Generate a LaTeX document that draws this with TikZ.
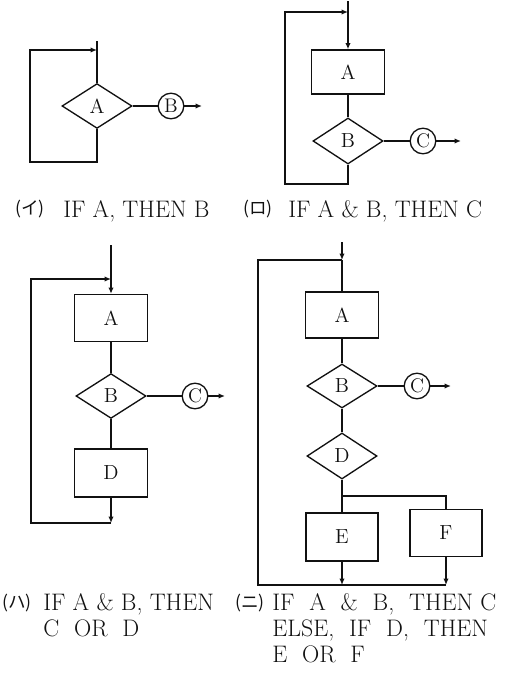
\documentclass[tikz,border=0pt]{standalone}
\usepackage{fontspec}
\usepackage{tikz}
\usetikzlibrary{arrows.meta,positioning,shapes.geometric}
\newfontfamily\cjk{Noto Sans CJK JP}
\definecolor{fcInk}{HTML}{111111}
\newcommand{\wgap}{\hspace{0.62em}}
\tikzset{
  % Process box
  pbox/.style={rectangle,draw=fcInk,line width=0.95pt,inner sep=0pt,
    minimum width=1.825cm,minimum height=1.15cm,
    font=\fontsize{14.5}{17}\selectfont,text=fcInk},
  % Decision diamond
  dbox/.style={diamond,draw=fcInk,line width=0.95pt,inner sep=0pt,
    minimum width=1.75cm,minimum height=1.12cm,
    font=\fontsize{14.5}{17}\selectfont,text=fcInk},
  % Connector circle
  obox/.style={circle,draw=fcInk,line width=0.95pt,inner sep=0pt,
    minimum size=0.64cm,font=\fontsize{14}{16}\selectfont,text=fcInk},
  % Lines
  ln/.style={line width=0.95pt,color=fcInk},
  arr/.style={ln,-{Latex[length=4.5pt,width=3.8pt]}},
  % Captions
  lbl/.style={inner sep=0pt,anchor=north west,align=left,
    font=\fontsize{17}{18.4}\selectfont,text=fcInk},
  tag/.style={inner sep=0pt,font=\cjk\fontsize{12.5}{14}\selectfont,text=fcInk},
}
\begin{document}
\begin{tikzpicture}[x=0.025cm,y=-0.025cm]
  \useasboundingbox (0,0) rectangle (514,673);

  % (i) single test
  \node[dbox] (dA1) at (97,106) {A};
  \node[obox] (cB1) at (171,106) {B};
  \coordinate (t1) at (97,41);
  \coordinate (j1) at (97,50);
  \coordinate (l1) at (30,162);
  \coordinate (o1) at (202,106);
  \draw[ln] (t1) -- (dA1);
  \draw[ln] (dA1) -- (cB1);
  \draw[arr] (cB1) -- (o1);
  \draw[arr] (dA1.south) |- (l1) |- (j1);

  % (ii) box, then test
  \node[pbox,minimum height=1.1cm] (bA2) at (348,72) {A};
  \node[dbox,minimum height=1.15cm] (dB2) at (348,141) {B};
  \node[obox] (cC2) at (423,141) {C};
  \coordinate (t2) at (348,1);
  \coordinate (j2) at (348,12);
  \coordinate (l2) at (285,184);
  \coordinate (o2) at (461,141);
  \draw[arr] (t2) -- (bA2);
  \foreach \from/\to in {bA2/dB2,dB2/cC2}
    \draw[ln] (\from) -- (\to);
  \draw[arr] (cC2) -- (o2);
  \draw[arr] (dB2.south) |- (l2) |- (j2);

  % (iii) box, test, box
  \node[pbox,minimum height=1.175cm] (bA3) at (111,318) {A};
  \node[dbox] (dB3) at (111,396) {B};
  \node[obox] (cC3) at (195,396) {C};
  \node[pbox,minimum height=1.2cm] (bD3) at (111,473) {D};
  \coordinate (t3) at (111,245);
  \coordinate (j3) at (111,279);
  \coordinate (b3) at (111,523);
  \coordinate (l3) at (31,523);
  \coordinate (o3) at (225,396);
  \draw[arr] (t3) -- (bA3);
  \foreach \from/\to in {bA3/dB3,dB3/bD3,dB3/cC3}
    \draw[ln] (\from) -- (\to);
  \draw[arr] (cC3) -- (o3);
  \draw[arr] (bD3) -- (b3);
  \draw[arr] (b3) -- (l3) |- (j3);

  % (iv) two tests, two branches
  \node[pbox] (bA4) at (342,315) {A};
  \node[dbox,minimum height=1.1cm] (dB4) at (342,386) {B};
  \node[obox] (cC4) at (417,386) {C};
  \node[dbox,minimum height=1.15cm] (dD4) at (342,456) {D};
  \node[pbox,minimum width=1.8cm,minimum height=1.2cm] (bE4) at (342,537) {E};
  \node[pbox,minimum width=1.8cm,minimum height=1.175cm] (bF4) at (446,533) {F};
  \coordinate (t4) at (342,242);
  \coordinate (j4) at (342,260);
  \coordinate (k4) at (342,496);
  \coordinate (be) at (342,585);
  \coordinate (bf) at (446,585);
  \coordinate (l4) at (258,585);
  \coordinate (o4) at (451,386);
  \draw[arr] (t4) -- (j4);
  \foreach \from/\to in {j4/bA4,bA4/dB4,dB4/cC4,dB4/dD4,dD4/bE4}
    \draw[ln] (\from) -- (\to);
  \draw[arr] (cC4) -- (o4);
  \draw[ln] (k4) -| (bF4.north);
  \draw[arr] (bE4) -- (be);
  \draw[arr] (bF4) -- (bf);
  \draw[ln] (bf) -- (l4) |- (j4);

  % Captions
  \node[tag] (tg1) at (30,209) {(イ)};
  \node[lbl] (cp1) at (63,200) {IF A, THEN B};
  \node[tag] (tg2) at (258,209) {(ロ)};
  \node[lbl] (cp2) at (288,200) {IF A \& B, THEN C};
  \node[tag] (tg3) at (17,603) {(ハ)};
  \node[lbl] (cp3) at (43,593) {IF A \& B, THEN\\C\wgap OR\wgap D};
  \node[tag] (tg4) at (250,603) {(ニ)};
  \node[lbl] (cp4) at (272,593)
    {IF\wgap A\wgap \&\wgap B,\wgap THEN C\\ELSE,\wgap IF\wgap D,\wgap THEN\\E\wgap OR\wgap F};

\end{tikzpicture}
\end{document}
